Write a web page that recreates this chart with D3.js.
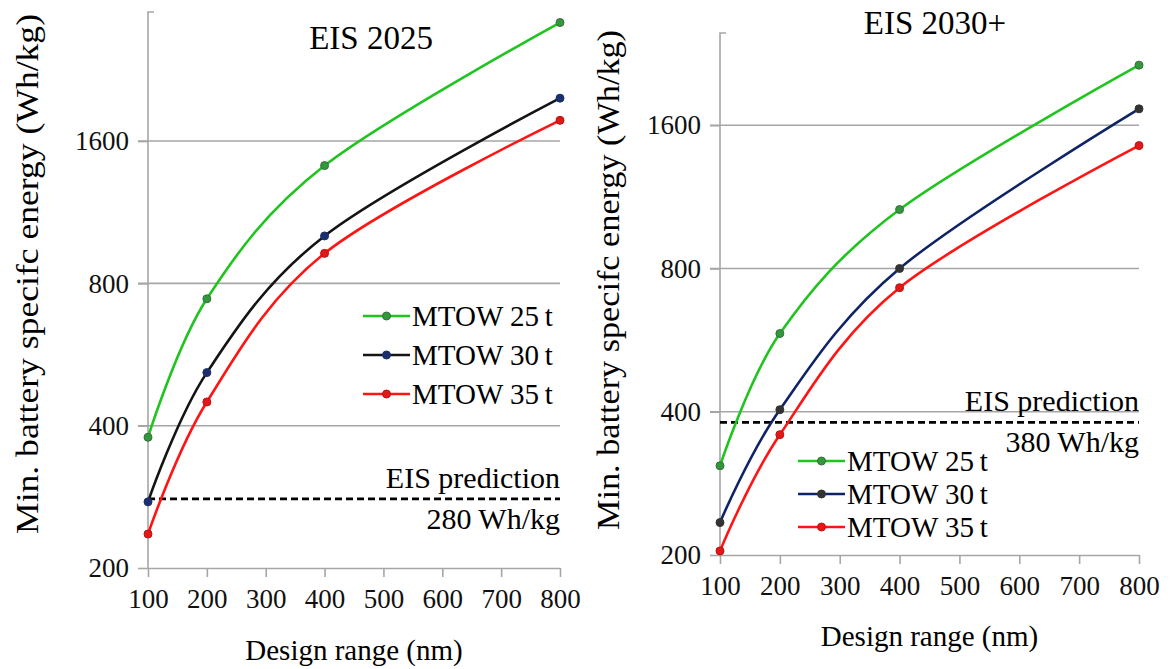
<!DOCTYPE html>
<html>
<head>
<meta charset="utf-8">
<script src="https://cdn.jsdelivr.net/npm/d3@7"></script>
<style>
  body { margin: 0; background: #fff; }
  svg { display: block; }
  svg text { font-family: "Liberation Serif", serif !important; }
</style>
</head>
<body>
<svg id="chart" width="1173" height="669"></svg>
<script>
// design ranges (nm) where the points sit
var ranges = [100, 200, 400, 800];
var xTicks = [100, 200, 300, 400, 500, 600, 700, 800];
var yTicks = [200, 400, 800, 1600];
var seriesNames = ["MTOW 25\u2009t", "MTOW 30\u2009t", "MTOW 35\u2009t"];

// EIS 2025, min battery specific energy (Wh/kg)
var eis2025_25t = [378, 742, 1420, 2850];
var eis2025_30t = [276, 518, 1008, 1972];
var eis2025_35t = [236, 449, 926, 1770];
var eis2025Prediction = 280;

// EIS 2030+
var eis2030_25t = [308, 584, 1064, 2140];
var eis2030_30t = [234, 404, 800, 1732];
var eis2030_35t = [204, 358, 729, 1450];
var eis2030Prediction = 380;

var svg = d3.select("#chart");

function drawPanel(p) {
    var g = svg.append("g");

    var xScale = d3.scaleLinear().domain([100, 800]).range([p.left, p.right]);
    var yScale = d3.scaleLog().base(2).domain([200, p.yMax]).range([p.bottom, p.top]);

    // gridlines
    g.selectAll(".grid")
        .data(yTicks.slice(1))
        .enter()
        .append("line")
        .attr("x1", p.left - 10)
        .attr("x2", p.right)
        .attr("y1", d => yScale(d))
        .attr("y2", d => yScale(d))
        .attr("stroke", "#a6a6a6")
        .attr("stroke-width", 1.6);

    // y axis
    var yAxis = g.append("g")
        .attr("transform", `translate(${p.left},0)`)
        .call(d3.axisLeft(yScale).tickValues(yTicks).tickSize(10).tickPadding(9).tickFormat(d3.format("d")))
        .attr("font-size", 27);
    yAxis.select(".domain").remove();
    yAxis.selectAll("line").attr("stroke", "#a6a6a6").attr("stroke-width", 1.6);
    yAxis.selectAll("text").attr("fill", "#111");
    g.append("path")
        .attr("d", `M${p.left + 6},${p.top}H${p.left}V${p.bottom}`)
        .attr("fill", "none")
        .attr("stroke", "#a6a6a6")
        .attr("stroke-width", 1.6);

    // x axis
    var xAxis = g.append("g")
        .attr("transform", `translate(0,${p.bottom})`)
        .call(d3.axisBottom(xScale).tickValues(xTicks).tickSize(9).tickPadding(12).tickSizeOuter(0))
        .attr("font-size", 27);
    xAxis.select(".domain").attr("stroke", "#a6a6a6").attr("stroke-width", 1.6);
    xAxis.selectAll("line").attr("stroke", "#a6a6a6").attr("stroke-width", 1.6);
    xAxis.selectAll("text").attr("fill", "#111");

    // EIS prediction
    g.append("line")
        .attr("x1", p.left)
        .attr("x2", p.right)
        .attr("y1", yScale(p.prediction))
        .attr("y2", yScale(p.prediction))
        .attr("stroke", "#000")
        .attr("stroke-width", 2.6)
        .attr("stroke-dasharray", "7,4");
    g.append("text")
        .attr("x", p.right)
        .attr("y", yScale(p.prediction) - 11)
        .attr("text-anchor", "end")
        .style("font-size", "30px")
        .text("EIS prediction");
    g.append("text")
        .attr("x", p.right)
        .attr("y", yScale(p.prediction) + 30)
        .attr("text-anchor", "end")
        .style("font-size", "30px")
        .text(p.prediction + " Wh/kg");

    // lines
    var line = d3.line()
        .x((d, i) => xScale(ranges[i]))
        .y(d => yScale(d))
        .curve(d3.curveCardinal.tension(0));

    p.series.forEach(function(s) {
        g.append("path")
            .attr("d", line(s.values))
            .attr("fill", "none")
            .attr("stroke", s.color)
            .attr("stroke-width", 2.6);
        g.selectAll(null)
            .data(s.values)
            .enter()
            .append("circle")
            .attr("cx", (d, i) => xScale(ranges[i]))
            .attr("cy", d => yScale(d))
            .attr("r", 4)
            .attr("fill", s.marker)
            .attr("stroke", s.markerStroke)
            .attr("stroke-width", 1);
    });

    // legend
    var legend = g.selectAll(".legend")
        .data(p.series)
        .enter()
        .append("g")
        .attr("transform", (d, i) => `translate(${p.legendX},${p.legendY + i * p.legendStep})`);
    legend.append("line")
        .attr("x1", 0).attr("x2", 47)
        .attr("stroke", d => d.color)
        .attr("stroke-width", 2.6);
    legend.append("circle")
        .attr("cx", 23.5)
        .attr("r", 4)
        .attr("fill", d => d.marker)
        .attr("stroke", d => d.markerStroke);
    legend.append("text")
        .attr("x", 49)
        .attr("y", 10)
        .style("font-size", "29px")
        .text(d => d.name);

    // titles
    g.append("text")
        .attr("x", p.titleX)
        .attr("y", p.titleY)
        .attr("text-anchor", "middle")
        .style("font-size", "33px")
        .text(p.title);
    g.append("text")
        .attr("x", (p.left + p.right) / 2)
        .attr("y", p.xTitleY)
        .attr("text-anchor", "middle")
        .style("font-size", "29px")
        .text("Design range (nm)");
    g.append("text")
        .attr("transform", `translate(${p.yTitleX},${p.yTitleY}) rotate(-90)`)
        .attr("text-anchor", "middle")
        .attr("textLength", p.yTitleLen)
        .attr("lengthAdjust", "spacingAndGlyphs")
        .style("font-size", "32px")
        .text("Min. battery specifc energy (Wh/kg)");
}

drawPanel({
    left: 148, right: 560, top: 12, bottom: 568, yMax: 3000,
    prediction: eis2025Prediction,
    title: "EIS 2025", titleX: 371, titleY: 49,
    xTitleY: 660, yTitleX: 38, yTitleY: 274, yTitleLen: 520,
    legendX: 363, legendY: 316, legendStep: 39,
    series: [
        { name: seriesNames[0], values: eis2025_25t, color: "#1fc41f", marker: "#2f9a3a", markerStroke: "#3d6b3d" },
        { name: seriesNames[1], values: eis2025_30t, color: "#141414", marker: "#1b2f6e", markerStroke: "#1b2f6e" },
        { name: seriesNames[2], values: eis2025_35t, color: "#ff1414", marker: "#e01818", markerStroke: "#c01010" }
    ]
});

drawPanel({
    left: 720, right: 1139, top: 33, bottom: 555, yMax: 2500,
    prediction: eis2030Prediction,
    title: "EIS 2030+", titleX: 935, titleY: 34,
    xTitleY: 646, yTitleX: 619, yTitleY: 280, yTitleLen: 500,
    legendX: 798, legendY: 461, legendStep: 33,
    series: [
        { name: seriesNames[0], values: eis2030_25t, color: "#1fc41f", marker: "#2f9a3a", markerStroke: "#3d6b3d" },
        { name: seriesNames[1], values: eis2030_30t, color: "#0f2466", marker: "#333333", markerStroke: "#333333" },
        { name: seriesNames[2], values: eis2030_35t, color: "#ff1414", marker: "#e01818", markerStroke: "#c01010" }
    ]
});
</script>
</body>
</html>
